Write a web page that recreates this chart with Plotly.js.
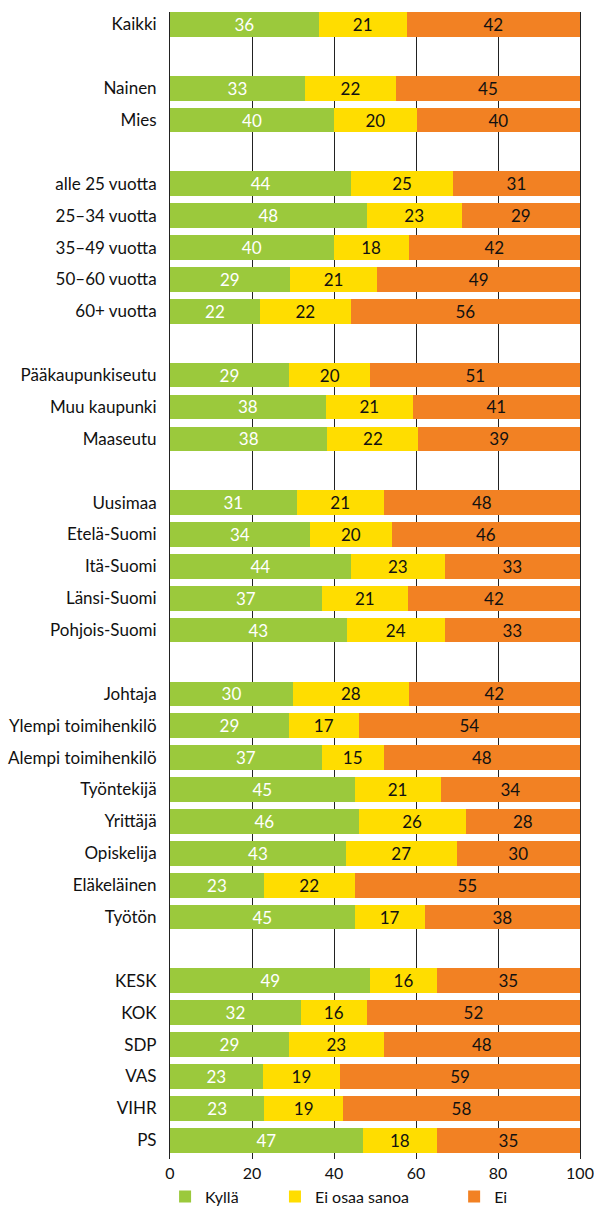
<!DOCTYPE html>
<html>
<head>
<meta charset="utf-8">
<script src="https://cdn.plot.ly/plotly-3.0.1.min.js"></script>
<style>
  html, body { margin: 0; padding: 0; background: #fff; }
  #chart { width: 594px; height: 1209px; }
</style>
</head>
<body>
<div id="chart"></div>
<script>
// ------------------- Data -------------------
// row groups, an empty row is left between groups
var groups = [
    ['Kaikki'],
    ['Nainen', 'Mies'],
    ['alle 25 vuotta', '25–34 vuotta', '35–49 vuotta', '50–60 vuotta', '60+ vuotta'],
    ['Pääkaupunkiseutu', 'Muu kaupunki', 'Maaseutu'],
    ['Uusimaa', 'Etelä-Suomi', 'Itä-Suomi', 'Länsi-Suomi', 'Pohjois-Suomi'],
    ['Johtaja', 'Ylempi toimihenkilö', 'Alempi toimihenkilö', 'Työntekijä',
     'Yrittäjä', 'Opiskelija', 'Eläkeläinen', 'Työtön'],
    ['KESK', 'KOK', 'SDP', 'VAS', 'VIHR', 'PS']
];

var seriesNames = ['Kyllä', 'Ei osaa sanoa', 'Ei'];

// shares in percent, same order as the rows above
var kylla = [36.3,
    32.9, 40.0,
    44.2, 48.0, 39.9, 29.2, 21.9,
    29.0, 38.0, 38.4,
    30.9, 34.1, 44.1, 37.0, 43.1,
    30.0, 29.0, 37.0, 45.0, 46.0, 42.9, 22.9, 45.0,
    48.9, 31.9, 29.0, 22.6, 23.0, 47.0];

var eiOsaa = [21.4,
    22.2, 20.2,
    24.8, 23.1, 18.3, 21.4, 22.2,
    19.9, 21.2, 22.2,
    21.2, 20.0, 22.9, 21.0, 23.9,
    28.2, 17.0, 15.1, 21.0, 26.1, 27.0, 22.1, 17.1,
    16.1, 16.1, 23.1, 18.9, 19.2, 18.1];

var ei = [42.3,
    44.9, 39.8,
    31.0, 28.9, 41.8, 49.4, 55.9,
    51.1, 40.8, 39.4,
    47.9, 45.9, 33.0, 42.0, 33.0,
    41.8, 54.0, 47.9, 34.0, 27.9, 30.1, 55.0, 37.9,
    35.0, 52.0, 47.9, 58.5, 57.8, 34.9];

var xTicks = [0, 20, 40, 60, 80, 100];

// ------------------- Build rows -------------------
var labels = [];
var rowPos = [];
var slot = 0;
groups.forEach(function(g, gi) {
    if (gi > 0) slot++; // blank row between groups
    g.forEach(function(name) {
        labels.push(name);
        rowPos.push(slot);
        slot++;
    });
});

var colors = ['#9BC93C', '#FFDD00', '#F28123'];
var textColors = ['#ffffff', '#111111', '#111111'];
var legendIds = ['legend', 'legend2', 'legend3'];
var values = [kylla, eiOsaa, ei];

var FONT = 'Lato, "Open Sans", sans-serif';

var data = values.map(function(vals, i) {
    return {
        type: 'bar',
        orientation: 'h',
        name: seriesNames[i],
        x: vals,
        y: rowPos,
        text: vals.map(function(v) { return String(Math.round(v)); }),
        textposition: 'inside',
        insidetextanchor: 'middle',
        textangle: 0,
        constraintext: 'none',
        textfont: { family: FONT, size: 17, color: textColors[i] },
        marker: { color: colors[i], line: { width: 0 } },
        hoverinfo: 'skip',
        legend: legendIds[i]
    };
});

function legendAt(x) {
    return {
        orientation: 'h',
        x: x,
        xanchor: 'left',
        y: -0.018,
        yanchor: 'top',
        bgcolor: 'rgba(0,0,0,0)',
        font: { family: FONT, size: 16, color: '#111' },
        itemclick: false,
        itemdoubleclick: false
    };
}

var layout = {
    width: 594,
    height: 1209,
    margin: { l: 170, r: 14, t: 12, b: 50, autoexpand: false },
    paper_bgcolor: '#ffffff',
    plot_bgcolor: '#ffffff',
    barmode: 'stack',
    bargap: 0.225,
    showlegend: true,
    font: { family: FONT, size: 17, color: '#111' },
    xaxis: {
        range: [0, 100],
        tickvals: xTicks,
        ticktext: xTicks.map(String),
        showgrid: true,
        gridcolor: '#222',
        gridwidth: 1,
        zeroline: false,
        showline: false,
        ticks: '',
        ticklabelstandoff: 3,
        tickfont: { family: FONT, size: 16, color: '#111' },
        fixedrange: true
    },
    yaxis: {
        range: [slot - 1 + 0.59, -0.39],
        tickvals: rowPos,
        ticktext: labels,
        showgrid: false,
        zeroline: false,
        showline: true,
        mirror: true,
        linecolor: '#222',
        linewidth: 1,
        ticks: '',
        ticklabelstandoff: 9,
        tickfont: { family: FONT, size: 17, color: '#111' },
        fixedrange: true
    },
    legend: legendAt(-0.012),
    legend2: legendAt(0.256),
    legend3: legendAt(0.693)
};

Plotly.newPlot('chart', data, layout, { displayModeBar: false, staticPlot: true });
</script>
</body>
</html>
